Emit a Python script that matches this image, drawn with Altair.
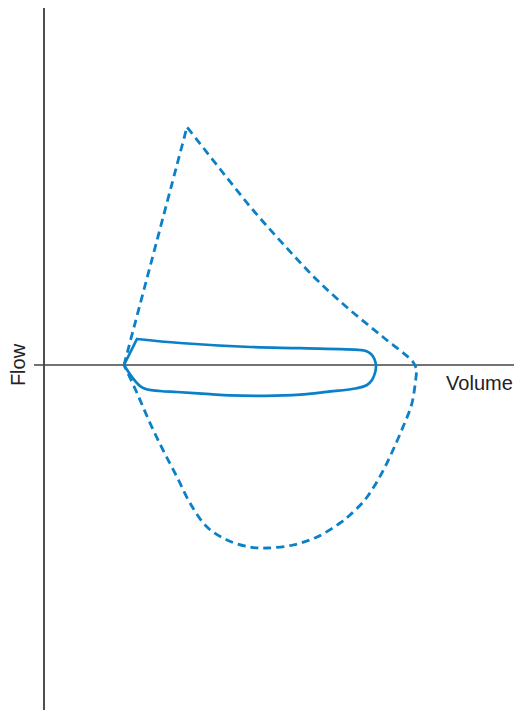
import altair as alt
import pandas as pd

# Maximal flow-volume loop (dashed), in path order (corner points repeated)
max_vol = [2.0, 2.0, 3.575, 3.575, 4.4, 5.225, 6.025, 6.825, 7.65, 8.475, 9.225, 9.32, 9.32,
           9.2, 8.975, 8.725, 8.5, 8.275, 8.0, 7.65, 7.4, 6.825, 6.225, 5.575, 5.15, 4.575, 4.075, 3.65,
           3.325, 2.975, 2.65, 2.325, 2.0, 2.0]
max_flow = [0.0, 0.0, 5.95, 5.95, 4.9, 3.875, 2.975, 2.125, 1.375, 0.7, 0.075, -0.12, -0.12,
            -0.95, -1.55, -2.125, -2.6, -3.0, -3.4, -3.75, -3.95, -4.3, -4.5, -4.575, -4.55, -4.375, -4.05, -3.45,
            -2.8, -2.125, -1.45, -0.7, 0.0, 0.0]

# Tidal loop (solid), in path order (corner points repeated)
tid_vol = [2.0, 2.0, 2.325, 2.325, 3.4, 5.15, 6.4, 7.9, 8.05, 8.175, 8.26, 8.3, 8.275, 8.2, 8.075,
           7.825, 7.075, 6.4, 5.525, 4.65, 4.15, 3.325, 2.9, 2.45, 2.0, 2.0]
tid_flow = [0.0, 0.0, 0.65, 0.65, 0.55, 0.45, 0.42, 0.375, 0.35, 0.275, 0.15, -0.025, -0.2, -0.375, -0.5,
            -0.58, -0.67, -0.74, -0.77, -0.76, -0.73, -0.675, -0.65, -0.56, 0.0, 0.0]

BLUE = "#0a80c8"
xs = alt.Scale(domain=[-0.9, 11.75], nice=False, zero=False)
ys = alt.Scale(domain=[-8.625, 8.925], nice=False, zero=False)

df_max = pd.DataFrame({"v": max_vol, "f": max_flow, "o": range(len(max_vol))})
df_tid = pd.DataFrame({"v": tid_vol, "f": tid_flow, "o": range(len(tid_vol))})

max_line = alt.Chart(df_max).mark_line(color=BLUE, strokeWidth=2.8, strokeDash=[8, 5],
                                       interpolate="catmull-rom").encode(
    x=alt.X("v:Q", scale=xs, axis=None),
    y=alt.Y("f:Q", scale=ys, axis=None),
    order="o:Q",
)
tid_line = alt.Chart(df_tid).mark_line(color=BLUE, strokeWidth=2.7,
                                       interpolate="catmull-rom").encode(
    x=alt.X("v:Q", scale=xs, axis=None),
    y=alt.Y("f:Q", scale=ys, axis=None),
    order="o:Q",
)

vaxis = alt.Chart(pd.DataFrame({"v": [0.0], "f1": [9.0], "f2": [-8.8]})).mark_rule(
    color="#222222", strokeWidth=1.6).encode(
    x=alt.X("v:Q", scale=xs, axis=None),
    y=alt.Y("f1:Q", scale=ys, axis=None),
    y2="f2:Q",
)
haxis = alt.Chart(pd.DataFrame({"f": [0.0], "v1": [-0.25], "v2": [11.9]})).mark_rule(
    color="#444444", strokeWidth=1.5).encode(
    y=alt.Y("f:Q", scale=ys, axis=None),
    x=alt.X("v1:Q", scale=xs, axis=None),
    x2="v2:Q",
)

flow_lbl = alt.Chart(pd.DataFrame({"v": [-0.63], "f": [0.0], "t": ["Flow"]})).mark_text(
    angle=270, fontSize=20, font="Liberation Sans", color="#222222", baseline="middle", align="center"
).encode(x=alt.X("v:Q", scale=xs, axis=None), y=alt.Y("f:Q", scale=ys, axis=None), text="t:N")

vol_lbl = alt.Chart(pd.DataFrame({"v": [11.72], "f": [-0.625], "t": ["Volume"]})).mark_text(
    fontSize=20, font="Liberation Sans", color="#222222", baseline="alphabetic", align="right"
).encode(x=alt.X("v:Q", scale=xs, axis=None), y=alt.Y("f:Q", scale=ys, axis=None), text="t:N")

chart = alt.layer(vaxis, haxis, max_line, tid_line, flow_lbl, vol_lbl).properties(
    width=506, height=702, autosize=alt.AutoSizeParams(type="none"), padding=0
).configure_view(stroke=None)

chart.save("out.html", embed_options={"renderer": "svg", "actions": False})
